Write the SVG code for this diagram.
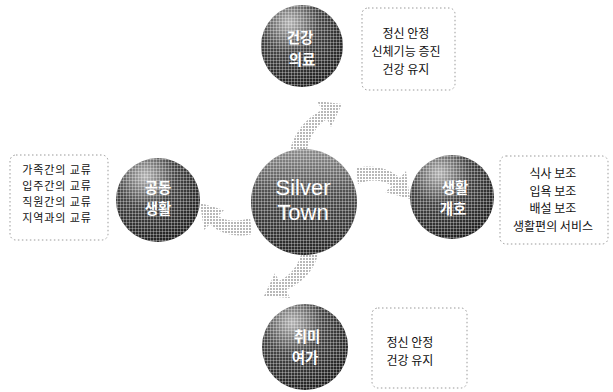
<svg xmlns="http://www.w3.org/2000/svg" width="613" height="392" viewBox="0 0 613 392">
<style>
.lbl{font-family:"Noto Sans CJK KR","Noto Sans",sans-serif;font-size:14.5px;font-weight:bold;fill:#fff;text-anchor:middle}
.ctr{font-family:"Liberation Sans","Noto Sans",sans-serif;font-size:22px;fill:#fff;text-anchor:middle}
.txt{font-family:"Noto Sans CJK KR","Noto Sans",sans-serif;font-size:12px;fill:#111;text-anchor:middle}
.sm{font-size:11px;letter-spacing:0.9px}
.box{fill:none;stroke:#999;stroke-width:1;stroke-dasharray:1.5 2.5}
.arr{fill:url(#dots);stroke:none}
</style>
<defs>
<pattern id="dots" width="3" height="3" patternUnits="userSpaceOnUse">
<rect width="2" height="2" fill="#b8b8b8"/>
</pattern>
<radialGradient id="ball" cx="0.35" cy="0.22" r="0.85">
<stop offset="0" stop-color="#b5b5b5"/>
<stop offset="0.42" stop-color="#464646"/>
<stop offset="1" stop-color="#1c1c1c"/>
</radialGradient>
<linearGradient id="ctrg" x1="0" y1="0" x2="0" y2="1">
<stop offset="0" stop-color="#8f8f8f"/>
<stop offset="0.45" stop-color="#4a4a4a"/>
<stop offset="1" stop-color="#262626"/>
</linearGradient>
<pattern id="grid" width="3" height="3" patternUnits="userSpaceOnUse">
<rect width="3" height="1" fill="#fff" opacity="0.3"/>
<rect width="1" height="3" fill="#fff" opacity="0.3"/>
</pattern>
</defs>
<g id="connectors">
<path class="arr" d="M 290 150 C 296 128 310 116 322 110 L 317 101 L 342 104 L 331 127 L 327 119 C 316 126 309 138 307 150 Z"/>
<path class="arr" d="M 356 168 C 372 164 390 168 400 178 L 406 171 L 410 199 L 385 192 L 392 186 C 384 180 372 178 358 184 Z"/>
<path class="arr" d="M 318 254 C 314 272 300 284 286 290 L 290 298 L 264 296 L 275 273 L 279 281 C 290 276 298 266 302 252 Z"/>
<path class="arr" d="M 252 234 C 236 238 220 234 210 224 L 204 230 L 200 203 L 224 210 L 218 216 C 228 222 238 222 250 218 Z"/>
</g>
<g id="node-center">
<circle cx="304" cy="202" r="53" fill="url(#ctrg)"/>
<circle cx="304" cy="202" r="53" fill="url(#grid)"/>
<text class="ctr" x="303" y="195">Silver</text>
<text class="ctr" x="303" y="220">Town</text>
</g>
<g id="node-top">
<circle cx="302" cy="46" r="41" fill="url(#ball)"/>
<circle cx="302" cy="46" r="41" fill="url(#grid)"/>
<text class="lbl" x="300" y="43">건강</text>
<text class="lbl" x="302" y="65">의료</text>
</g>
<g id="node-left">
<circle cx="158" cy="200" r="42" fill="url(#ball)"/>
<circle cx="158" cy="200" r="42" fill="url(#grid)"/>
<text class="lbl" x="158" y="193">공동</text>
<text class="lbl" x="158" y="214">생활</text>
</g>
<g id="node-right">
<circle cx="452" cy="197" r="42" fill="url(#ball)"/>
<circle cx="452" cy="197" r="42" fill="url(#grid)"/>
<text class="lbl" x="455" y="193">생활</text>
<text class="lbl" x="453" y="214">개호</text>
</g>
<g id="node-bottom">
<circle cx="305" cy="347" r="43" fill="url(#ball)"/>
<circle cx="305" cy="347" r="43" fill="url(#grid)"/>
<text class="lbl" x="307" y="342">취미</text>
<text class="lbl" x="305" y="363">여가</text>
</g>
<g id="note-top">
<rect class="box" x="362" y="8" width="93" height="82" rx="6"/>
<text class="txt" x="406" y="38">정신 안정</text>
<text class="txt" x="406" y="56">신체기능 증진</text>
<text class="txt" x="406" y="74">건강 유지</text>
</g>
<g id="note-left">
<rect class="box" x="10" y="155" width="98" height="85" rx="6"/>
<text class="txt sm" x="57" y="174">가족간의 교류</text>
<text class="txt sm" x="57" y="190">입주간의 교류</text>
<text class="txt sm" x="57" y="206">직원간의 교류</text>
<text class="txt sm" x="57" y="222">지역과의 교류</text>
</g>
<g id="note-right">
<rect class="box" x="500" y="156" width="108" height="88" rx="6"/>
<text class="txt" x="553" y="178">식사 보조</text>
<text class="txt" x="553" y="196">입욕 보조</text>
<text class="txt" x="553" y="213">배설 보조</text>
<text class="txt" x="553" y="231">생활편의 서비스</text>
</g>
<g id="note-bottom">
<rect class="box" x="372" y="308" width="95" height="80" rx="6"/>
<text class="txt" x="410" y="347">정신 안정</text>
<text class="txt" x="410" y="365">건강 유지</text>
</g>
</svg>
